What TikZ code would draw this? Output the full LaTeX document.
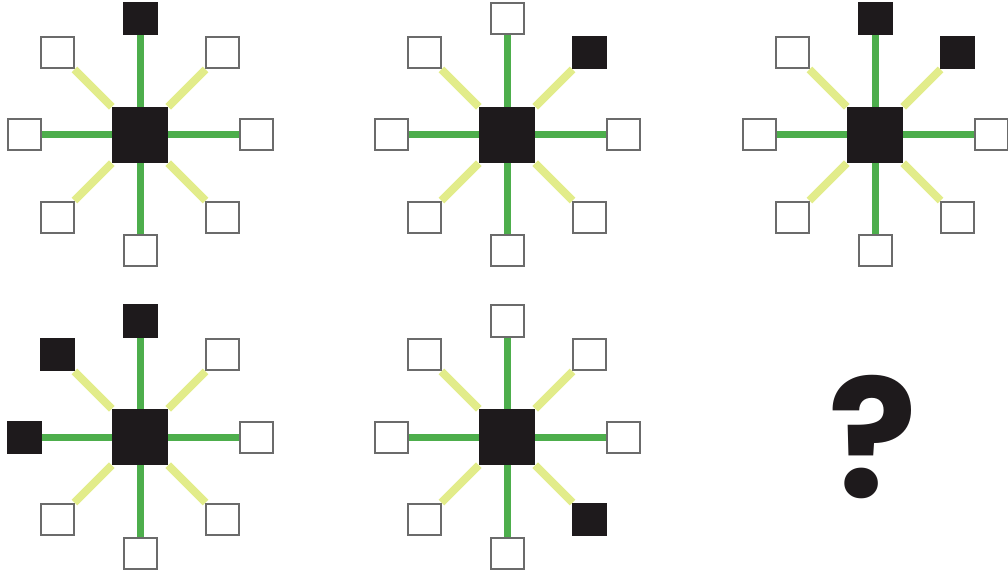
\documentclass[tikz,border=0pt]{standalone}
\usepackage{fontspec}
\newfontfamily\quizfont{Poppins}
\usetikzlibrary{backgrounds}
\definecolor{SpokeGreen}{HTML}{4DAE4C}
\definecolor{SpokeLime}{HTML}{E2EC8A}
\definecolor{BoxGray}{HTML}{6B6B6B}
\definecolor{HubBlack}{HTML}{1E1A1C}

\begin{document}
\begin{tikzpicture}[x=1pt,y=1pt,
    hub/.style={draw=none, fill=HubBlack, minimum width=56pt, minimum height=56pt, inner sep=0pt},
    leaf/.style={draw=BoxGray, line width=2pt, fill=white, minimum width=33pt, minimum height=31pt, inner sep=0pt},
    dark/.style={leaf, draw=HubBlack, fill=HubBlack},
    straight/.style={SpokeGreen, line width=7pt},
    slant/.style={SpokeLime, line width=8pt}]
    \useasboundingbox (0,0) rectangle (1008,576);

    % Figure 1: top box filled
    \begin{scope}[shift={(140,441)}]
        \node[hub] (A) at (0,0) {};
        \foreach \ang/\kind [count=\i] in {0/leaf, 45/leaf, 90/dark, 135/leaf, 180/leaf, 225/leaf, 270/leaf, 315/leaf}
            \node[\kind] (A\i) at (\ang:116) {};
        \begin{scope}[on background layer]
            \foreach \i in {1,3,5,7} \draw[straight] (A) -- (A\i);
            \foreach \i in {2,4,6,8} \draw[slant] (A) -- (A\i);
        \end{scope}
    \end{scope}

    % Figure 2: top-right box filled
    \begin{scope}[shift={(507,441)}]
        \node[hub] (B) at (0,0) {};
        \foreach \ang/\kind [count=\i] in {0/leaf, 45/dark, 90/leaf, 135/leaf, 180/leaf, 225/leaf, 270/leaf, 315/leaf}
            \node[\kind] (B\i) at (\ang:116) {};
        \begin{scope}[on background layer]
            \foreach \i in {1,3,5,7} \draw[straight] (B) -- (B\i);
            \foreach \i in {2,4,6,8} \draw[slant] (B) -- (B\i);
        \end{scope}
    \end{scope}

    % Figure 3: top and top-right boxes filled
    \begin{scope}[shift={(875,441)}]
        \node[hub] (C) at (0,0) {};
        \foreach \ang/\kind [count=\i] in {0/leaf, 45/dark, 90/dark, 135/leaf, 180/leaf, 225/leaf, 270/leaf, 315/leaf}
            \node[\kind] (C\i) at (\ang:116) {};
        \begin{scope}[on background layer]
            \foreach \i in {1,3,5,7} \draw[straight] (C) -- (C\i);
            \foreach \i in {2,4,6,8} \draw[slant] (C) -- (C\i);
        \end{scope}
    \end{scope}

    % Figure 4: top, top-left and left boxes filled
    \begin{scope}[shift={(140,139)}]
        \node[hub] (D) at (0,0) {};
        \foreach \ang/\kind [count=\i] in {0/leaf, 45/leaf, 90/dark, 135/dark, 180/dark, 225/leaf, 270/leaf, 315/leaf}
            \node[\kind] (D\i) at (\ang:116) {};
        \begin{scope}[on background layer]
            \foreach \i in {1,3,5,7} \draw[straight] (D) -- (D\i);
            \foreach \i in {2,4,6,8} \draw[slant] (D) -- (D\i);
        \end{scope}
    \end{scope}

    % Figure 5: bottom-right box filled
    \begin{scope}[shift={(507,139)}]
        \node[hub] (E) at (0,0) {};
        \foreach \ang/\kind [count=\i] in {0/leaf, 45/leaf, 90/leaf, 135/leaf, 180/leaf, 225/leaf, 270/leaf, 315/dark}
            \node[\kind] (E\i) at (\ang:116) {};
        \begin{scope}[on background layer]
            \foreach \i in {1,3,5,7} \draw[straight] (E) -- (E\i);
            \foreach \i in {2,4,6,8} \draw[slant] (E) -- (E\i);
        \end{scope}
    \end{scope}

    % Missing figure
    \node[text=HubBlack, font=\fontsize{165}{165}\quizfont\bfseries] (Q) at (873,139) {?};
\end{tikzpicture}
\end{document}
